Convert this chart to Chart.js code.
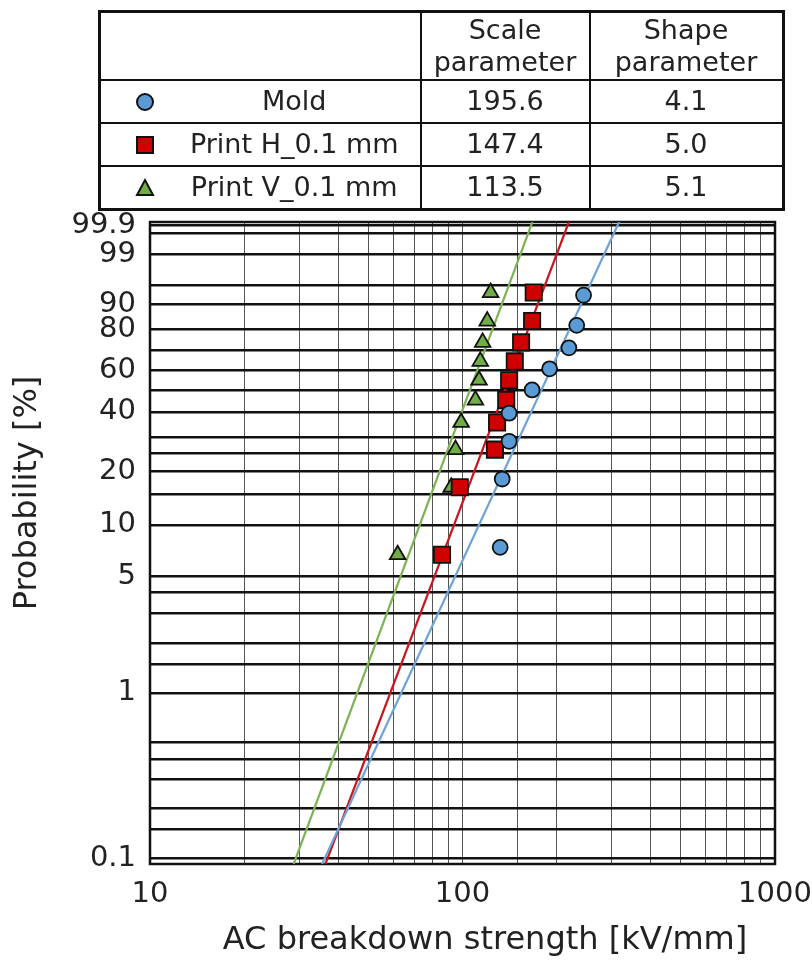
<!DOCTYPE html>
<html>
<head>
<meta charset="utf-8">
<title>Weibull plot – AC breakdown strength</title>
<script src="https://cdn.jsdelivr.net/npm/chart.js@4.4.1/dist/chart.umd.min.js"></script>
<style>
    html, body { margin: 0; padding: 0; background: #fff; }
    #wrap { position: relative; width: 812px; height: 964px; overflow: hidden; }
    #weibullChart { position: absolute; left: 0; top: 0; }

    /* parameter table above the plot */
    table.params {
        position: absolute;
        left: 98px;
        top: 10px;
        border-collapse: collapse;
        border: 3px solid #111;
        font-family: 'DejaVu Sans', sans-serif;
        font-size: 27px;
        color: #222;
    }
    table.params td {
        border: 2px solid #111;
        text-align: center;
        padding: 0;
        line-height: 1.2;
    }
    table.params tr.head td { height: 66px; }
    table.params tr.row td { height: 41px; }
    td.name { position: relative; width: 321px; padding-left: 68px !important; box-sizing: border-box; }
    td.name svg { position: absolute; left: 33px; top: 50%; margin-top: -11px; }
    td.scale { width: 167px; }
    td.shape { width: 191px; }
</style>
</head>
<body>
<div id="wrap">
    <canvas id="weibullChart" width="812" height="964"></canvas>
    <table class="params">
        <tr class="head">
            <td class="name"></td>
            <td class="scale">Scale<br>parameter</td>
            <td class="shape">Shape<br>parameter</td>
        </tr>
        <tr class="row">
            <td class="name"><svg width="22" height="22"><circle cx="11" cy="11" r="8" fill="#5B9BD5" stroke="#111" stroke-width="2"/></svg>Mold</td>
            <td>195.6</td>
            <td>4.1</td>
        </tr>
        <tr class="row">
            <td class="name"><svg width="22" height="22"><rect x="3" y="3" width="16" height="16" fill="#D00000" stroke="#111" stroke-width="2"/></svg>Print H_0.1 mm</td>
            <td>147.4</td>
            <td>5.0</td>
        </tr>
        <tr class="row">
            <td class="name"><svg width="22" height="22"><polygon points="11,3 19,18 3,18" fill="#70AD47" stroke="#111" stroke-width="2"/></svg>Print V_0.1 mm</td>
            <td>113.5</td>
            <td>5.1</td>
        </tr>
    </table>
</div>

<script>
// ---- data ----
const seriesNames = ['Mold', 'Print H_0.1 mm', 'Print V_0.1 mm'];

// breakdown strength [kV/mm]
const moldX   = [132, 134, 141, 141, 167, 190, 219, 232, 244];
const printHX = [86, 98, 127, 129, 138, 141, 147, 154, 167, 169];
const printVX = [62, 92, 95, 99, 110, 113, 114, 116, 120, 123];

// cumulative probability [%]
const moldProb  = [7.4, 18.1, 28.7, 39.4, 50.0, 60.6, 71.3, 81.9, 92.6];
const printProb = [6.7, 16.3, 26.0, 35.6, 45.2, 54.8, 64.4, 74.0, 83.7, 93.3];

// Weibull parameters (from the table)
const scaleParams = [195.6, 147.4, 113.5];
const shapeParams = [4.1, 5.0, 5.1];

// axis ticks
const probGrid   = [0.1, 0.15, 0.2, 0.3, 0.4, 0.5, 1, 1.5, 2, 3, 4, 5, 10, 15, 20, 25, 30,
                    40, 50, 60, 70, 80, 90, 95, 99, 99.8, 99.9];
const probLabels = [0.1, 1, 5, 10, 20, 40, 60, 80, 90, 99, 99.9];
const xLabels    = [10, 100, 1000];

// colours
const markerFill = ['#5B9BD5', '#D00000', '#70AD47'];
const lineColors = ['#6FA3D6', '#C8161E', '#7DB356'];

const FONT = "'DejaVu Sans', sans-serif";

// Weibull probability transform: y = ln(-ln(1 - F))
function weib(pct) {
    return Math.log(-Math.log(1 - pct / 100));
}

const Y_MIN = -6.99;
const Y_MAX = 1.98;

function toPoints(xs, probs) {
    return xs.map((x, i) => ({ x: x, y: weib(probs[i]) }));
}

// straight fitted line across the full y range
function fitLine(eta, beta) {
    return [Y_MIN, Y_MAX].map(w => ({ x: eta * Math.exp(w / beta), y: w }));
}

/**
 * Frame round the plot area and the two axis titles
 */
const framePlugin = {
    id: 'frameAndTitles',
    beforeDatasetsDraw(chart) {
        const a = chart.chartArea;
        const ctx = chart.ctx;
        ctx.save();
        ctx.strokeStyle = '#111';
        ctx.lineWidth = 2.5;
        ctx.strokeRect(a.left, a.top, a.right - a.left, a.bottom - a.top);
        ctx.restore();
    },
    afterDraw(chart) {
        const ctx = chart.ctx;
        ctx.save();
        ctx.fillStyle = '#222';
        ctx.font = '32px ' + FONT;
        ctx.textAlign = 'center';
        ctx.textBaseline = 'middle';
        ctx.fillText('AC breakdown strength [kV/mm]', 485, 941);

        ctx.translate(28, 493);
        ctx.rotate(-Math.PI / 2);
        ctx.fillText('Probability [%]', 0, 0);
        ctx.restore();
    }
};

const pointStyles = ['circle', 'rect', 'triangle'];
const pointRadii = [7.5, 11.5, 9];
const xSets = [moldX, printHX, printVX];
const probSets = [moldProb, printProb, printProb];

const datasets = [];
seriesNames.forEach((name, i) => {
    datasets.push({
        label: name,
        data: toPoints(xSets[i], probSets[i]),
        pointStyle: pointStyles[i],
        pointRadius: pointRadii[i],
        backgroundColor: markerFill[i],
        borderColor: '#111',
        borderWidth: 1.8,
        order: 0
    });
    datasets.push({
        label: name + ' fit',
        data: fitLine(scaleParams[i], shapeParams[i]),
        showLine: true,
        pointRadius: 0,
        borderColor: lineColors[i],
        borderWidth: 2.2,
        order: 1
    });
});

const ctx = document.getElementById('weibullChart').getContext('2d');
new Chart(ctx, {
    type: 'scatter',
    data: { datasets: datasets },
    options: {
        responsive: false,
        animation: false,
        devicePixelRatio: 1,
        layout: { padding: { top: 222, right: 37, left: 0, bottom: 0 } },
        plugins: {
            legend: { display: false },
            tooltip: { enabled: false }
        },
        scales: {
            x: {
                type: 'logarithmic',
                min: 10,
                max: 1000,
                grid: { color: '#555', lineWidth: 1, drawTicks: false },
                border: { display: false },
                ticks: {
                    autoSkip: false,
                    maxRotation: 0,
                    padding: 13,
                    color: '#222',
                    font: { family: FONT, size: 29 },
                    callback: function(value) {
                        const hit = xLabels.find(v => Math.abs(v - value) < 1e-6);
                        return hit ? String(hit) : '';
                    }
                },
                afterFit: function(scale) {
                    scale.height = 100;
                    scale.paddingLeft = 0;
                    scale.paddingRight = 0;
                }
            },
            y: {
                type: 'linear',
                min: Y_MIN,
                max: Y_MAX,
                afterBuildTicks: function(scale) {
                    scale.ticks = probGrid.map(p => ({ value: weib(p) }));
                },
                grid: { color: '#111', lineWidth: 2.5, drawTicks: false },
                border: { display: false },
                ticks: {
                    autoSkip: false,
                    padding: 14,
                    color: '#222',
                    font: { family: FONT, size: 29 },
                    callback: function(value, index) {
                        const p = probGrid[index];
                        return probLabels.includes(p) ? String(p) : '';
                    }
                },
                afterFit: function(scale) {
                    scale.width = 150;
                    scale.paddingTop = 0;
                    scale.paddingBottom = 0;
                }
            }
        }
    },
    plugins: [framePlugin]
});
</script>
</body>
</html>
